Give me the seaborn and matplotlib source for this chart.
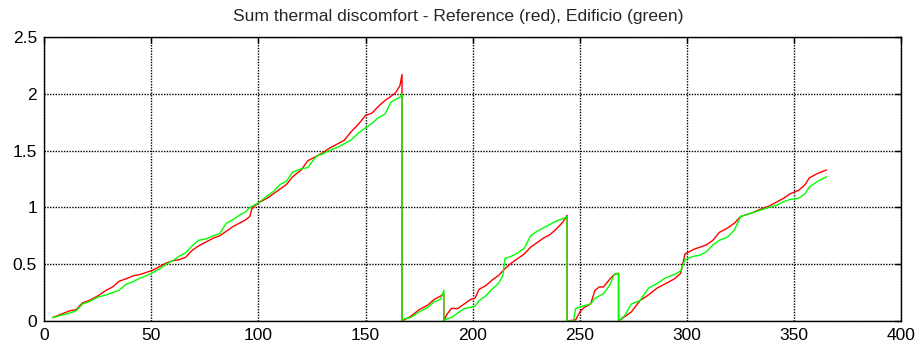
import pandas as pd
import seaborn as sns
import matplotlib.pyplot as plt

plt.switch_backend('Agg')

# Reference building (red): day of year, cumulative discomfort
ref_day = [4, 8, 12, 15, 18, 21, 25, 29, 32, 35, 38, 42, 45, 48, 51, 54, 57, 60, 63, 66,
           69, 72, 75, 79, 82, 85, 88, 91, 94, 96, 97, 100, 104, 107, 110, 113, 116, 120,
           123, 127, 130, 133, 137, 140, 143, 147, 150, 153, 156, 159, 162, 164, 166, 167, 167,
           168, 171, 175, 179, 182, 185, 186.5, 186.5,
           188, 190, 193, 196, 199, 201, 203, 206, 209, 212, 215, 218, 221, 224, 227, 230,
           233, 236, 239, 242, 244, 244,
           248, 250, 252, 255, 257, 259, 261, 264, 266, 268, 268,
           271, 274, 278, 282, 286, 290, 294, 297, 299, 303, 306, 309, 312, 315, 319, 322,
           325, 330, 335, 338, 342, 345, 348, 352, 355, 357, 361, 365]
ref_val = [0.03, 0.06, 0.09, 0.10, 0.16, 0.18, 0.22, 0.27, 0.30, 0.35, 0.37, 0.40, 0.41,
           0.43, 0.45, 0.48, 0.51, 0.53, 0.54, 0.56, 0.62, 0.66, 0.69, 0.73, 0.75, 0.79,
           0.83, 0.86, 0.89, 0.92, 0.99, 1.04, 1.08, 1.12, 1.16, 1.20, 1.27, 1.33, 1.41,
           1.45, 1.48, 1.52, 1.56, 1.59, 1.66, 1.74, 1.81, 1.83, 1.89, 1.94, 1.98, 2.01,
           2.07, 2.17, 0.0,
           0.01, 0.04, 0.10, 0.14, 0.19, 0.22, 0.24, 0.0,
           0.06, 0.11, 0.11, 0.15, 0.19, 0.20, 0.28, 0.31, 0.36, 0.40, 0.46, 0.51, 0.55,
           0.59, 0.65, 0.69, 0.73, 0.76, 0.81, 0.87, 0.93, 0.0,
           0.01, 0.08, 0.12, 0.15, 0.27, 0.30, 0.30, 0.37, 0.41, 0.42, 0.0,
           0.04, 0.08, 0.18, 0.23, 0.29, 0.33, 0.37, 0.42, 0.59, 0.63, 0.65, 0.67, 0.71,
           0.78, 0.82, 0.86, 0.92, 0.95, 0.99, 1.01, 1.05, 1.08, 1.12, 1.15, 1.20, 1.26,
           1.30, 1.33]

# Edificio (green)
edi_day = [4, 8, 12, 15, 18, 21, 25, 29, 32, 35, 38, 42, 45, 48, 51, 54, 57, 60, 63, 66,
           69, 72, 75, 79, 82, 85, 88, 91, 94, 96, 97, 100, 104, 107, 110, 113, 116, 120,
           123, 127, 130, 133, 137, 140, 143, 147, 150, 153, 156, 159, 162, 164, 166, 167, 167,
           168, 171, 175, 179, 182, 185, 186.5, 186.5,
           188, 190, 193, 196, 199, 201, 203, 206, 209, 212, 214, 215, 218, 221, 224, 227,
           230, 233, 236, 239, 242, 244, 244,
           247, 248, 251, 255, 257, 261, 264, 266, 268, 268,
           271, 274, 278, 282, 286, 290, 294, 297, 299, 303, 306, 309, 312, 315, 319, 322,
           325, 330, 335, 338, 342, 345, 348, 352, 355, 357, 361, 365]
edi_val = [0.03, 0.05, 0.07, 0.09, 0.15, 0.17, 0.21, 0.23, 0.25, 0.27, 0.32, 0.35, 0.38,
           0.40, 0.43, 0.46, 0.50, 0.53, 0.57, 0.60, 0.66, 0.71, 0.72, 0.75, 0.77, 0.86,
           0.89, 0.93, 0.96, 1.00, 1.01, 1.04, 1.10, 1.14, 1.20, 1.23, 1.31, 1.34, 1.35,
           1.45, 1.47, 1.50, 1.53, 1.56, 1.59, 1.66, 1.70, 1.74, 1.79, 1.82, 1.93, 1.95,
           1.97, 2.00, 0.0,
           0.02, 0.03, 0.08, 0.12, 0.17, 0.19, 0.27, 0.0,
           0.02, 0.03, 0.07, 0.11, 0.12, 0.13, 0.18, 0.22, 0.28, 0.33, 0.40, 0.55, 0.57,
           0.60, 0.64, 0.75, 0.79, 0.82, 0.85, 0.88, 0.90, 0.92, 0.0,
           0.0, 0.11, 0.13, 0.15, 0.20, 0.24, 0.32, 0.41, 0.42, 0.0,
           0.05, 0.15, 0.18, 0.29, 0.33, 0.38, 0.41, 0.44, 0.54, 0.57, 0.58, 0.61, 0.67,
           0.71, 0.74, 0.80, 0.92, 0.95, 0.98, 1.00, 1.02, 1.05, 1.07, 1.08, 1.12, 1.18,
           1.23, 1.27]

ref = pd.DataFrame({'day': ref_day, 'value': ref_val})
edi = pd.DataFrame({'day': edi_day, 'value': edi_val})

sns.set_style('white')
plt.rcParams['font.family'] = ['Liberation Sans', 'DejaVu Sans']

fig = plt.figure(figsize=(9.23, 3.56), dpi=100)
ax = fig.add_axes([0.0477, 0.0983, 0.929, 0.7978])

sns.lineplot(data=ref, x='day', y='value', sort=False, estimator=None,
             color='#ff0000', linewidth=1.0, ax=ax)
sns.lineplot(data=edi, x='day', y='value', sort=False, estimator=None,
             color='#00ff00', linewidth=1.0, ax=ax)

ax.set_xlim(0, 400)
ax.set_ylim(0, 2.5)
ax.set_xticks([0, 50, 100, 150, 200, 250, 300, 350, 400])
ax.set_yticks([0, 0.5, 1, 1.5, 2, 2.5])
ax.set_yticklabels(['0', '0.5', '1', '1.5', '2', '2.5'])
ax.set_xlabel('')
ax.set_ylabel('')
ax.grid(True, color='black', linestyle=(0, (1, 1)), linewidth=1.0)
ax.tick_params(direction='in', length=4, width=1, colors='black', labelsize=12.5,
               top=True, right=True, pad=5)
for sp in ax.spines.values():
    sp.set_color('black')
    sp.set_linewidth(1.0)

fig.text(0.497, 0.953, 'Sum thermal discomfort - Reference (red), Edificio (green)',
         ha='center', va='center', fontsize=12.6)

fig.savefig('out.png', dpi=100)
plt.close()
